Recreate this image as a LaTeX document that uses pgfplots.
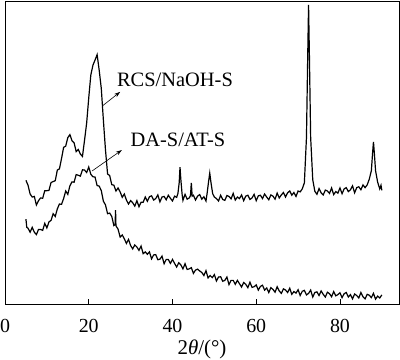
\documentclass[border=0pt]{standalone}
\usepackage{pgfplots}
\pgfplotsset{compat=1.18}
\usetikzlibrary{arrows.meta}
\usepackage{fontspec}
\setmainfont{Liberation Serif}
\begin{document}
\begin{tikzpicture}
\begin{axis}[
  scale only axis,
  width=394bp, height=303bp,
  xmin=0, xmax=94.1, ymin=0, ymax=100,
  xtick={0,20,40,60,80}, ytick=\empty,
  tick align=inside, xtick pos=bottom,
  major tick length=5bp,
  axis line style={line width=0.8bp},
  tick style={line width=0.8bp, black},
  /pgf/number format/assume math mode=true,
  ticklabel style={font=\fontsize{20}{24}\selectfont},
  xticklabel style={yshift=-12bp},
  xlabel={2{\itshape θ}/(°)},
  xlabel style={font=\fontsize{21}{24}\selectfont, yshift=0bp},
  clip=false,
]
\coordinate (SW) at (rel axis cs:0,0);
\coordinate (NE) at (rel axis cs:1,1);
\addplot[black, line width=1.2bp] table {
5.0 40.8
5.5 39.2
6.0 36.3
6.5 35.3
7.0 35.5
7.5 32.7
8.0 34.1
8.5 35.0
9.0 34.9
9.5 37.4
10.0 37.4
10.5 37.5
11.0 40.1
11.5 40.4
12.0 40.7
12.5 44.2
13.0 44.6
13.5 48.0
14.0 51.7
14.5 52.1
15.0 54.9
15.5 55.9
16.0 53.9
16.5 53.2
17.0 50.3
17.5 51.0
18.0 49.5
18.5 48.7
19.0 54.1
19.5 59.7
20.0 68.0
20.5 75.6
21.0 78.8
21.5 80.5
22.0 82.3
22.5 77.1
23.0 71.1
23.5 60.6
24.0 50.8
24.5 42.9
25.0 42.4
25.5 39.4
26.0 39.2
26.5 37.3
27.0 38.3
27.5 37.0
28.0 35.2
28.5 36.3
29.0 34.3
29.5 33.0
30.0 34.1
30.5 33.4
31.0 32.3
31.5 34.1
32.0 32.1
32.5 33.6
33.0 33.6
33.5 35.3
34.0 33.9
34.5 35.4
35.0 35.7
35.5 34.3
36.0 34.8
36.5 36.0
37.0 33.7
37.5 35.3
38.0 35.5
38.5 34.4
39.0 35.9
39.5 34.9
40.0 34.0
40.5 35.6
41.0 35.2
41.3 36.5
41.6 40.0
41.8 45.2
42.0 41.0
42.3 36.2
42.5 34.2
43.0 36.2
43.5 34.6
44.0 35.0
44.3 35.8
44.5 40.0
44.7 35.6
45.0 35.9
45.5 34.3
46.0 35.6
46.5 36.1
47.0 34.6
47.5 35.4
48.0 34.0
48.3 36.8
48.6 40.2
48.9 43.2
49.2 40.0
49.6 36.4
50.0 35.3
50.5 34.8
51.0 34.0
51.5 35.9
52.0 34.5
52.5 34.2
53.0 35.8
53.5 35.5
54.0 34.7
54.5 36.5
55.0 34.3
55.5 35.3
56.0 34.8
56.5 36.0
57.0 34.1
57.5 35.6
58.0 35.9
58.5 34.5
59.0 35.0
59.5 36.2
60.0 34.1
60.5 35.7
61.0 35.9
61.5 34.8
62.0 36.3
62.5 35.3
63.0 34.4
63.5 36.0
64.0 35.6
64.5 34.6
65.0 36.6
65.5 35.0
66.0 36.0
66.5 36.8
67.0 35.3
67.5 36.7
68.0 37.3
68.5 35.9
69.0 36.8
69.5 35.5
70.0 37.3
70.5 37.0
71.0 38.0
71.5 40.0
72.0 55.0
72.3 82.0
72.5 98.7
72.7 82.0
73.0 55.0
73.5 41.0
74.0 37.2
74.5 36.2
75.0 38.1
75.5 36.7
76.0 36.0
76.5 37.6
77.0 37.3
77.5 36.5
78.0 38.3
78.5 36.1
79.0 37.1
79.5 36.6
80.0 38.3
80.5 36.4
81.0 38.0
81.5 38.4
82.0 37.1
82.5 37.7
83.0 39.0
83.5 36.7
84.0 38.4
84.5 38.7
85.0 37.7
85.5 39.3
86.0 38.4
86.5 39.3
87.0 41.2
87.5 44.0
87.8 50.0
88.0 53.5
88.2 50.0
88.5 44.0
89.0 40.2
89.5 38.0
89.8 39.2
90.0 37.5
};
\addplot[black, line width=1.2bp] table {
5.0 28.0
5.2 25.3
5.5 25.0
6.0 23.7
6.5 25.3
7.0 23.7
7.5 22.9
8.0 24.6
8.5 24.6
9.0 24.3
9.5 26.6
10.0 25.1
10.5 27.1
11.0 27.6
11.5 29.8
12.0 28.9
12.5 31.4
13.0 33.0
13.5 32.9
14.0 34.8
14.5 37.3
15.0 36.2
15.5 39.0
16.0 40.3
16.5 40.2
17.0 42.7
17.5 42.5
18.0 42.2
18.5 44.3
19.0 44.2
19.5 43.4
20.0 45.2
20.5 42.8
21.0 42.0
21.5 41.9
22.0 39.1
22.5 38.9
23.0 37.4
23.5 33.9
24.0 32.7
24.5 29.8
25.0 30.0
25.5 28.9
26.0 25.9
26.3 26.2
26.4 31.0
26.5 25.8
27.0 24.7
27.5 22.1
28.0 22.8
28.5 21.5
29.0 20.0
29.5 21.3
30.0 19.3
30.5 18.2
31.0 19.5
31.5 18.8
32.0 17.7
32.5 19.1
33.0 16.6
33.5 17.2
34.0 16.4
34.5 17.2
35.0 14.9
35.5 16.2
36.0 16.3
36.5 14.6
37.0 14.8
37.5 15.8
38.0 13.3
38.5 14.7
39.0 14.7
39.5 13.4
40.0 14.7
40.5 13.4
41.0 12.2
41.5 13.6
42.0 12.9
42.5 11.6
43.0 13.3
43.5 11.4
44.0 11.6
44.5 12.0
45.0 10.1
45.5 11.2
46.0 11.5
46.5 10.9
47.0 10.4
47.5 9.4
48.0 11.0
48.5 8.6
49.0 9.4
49.5 8.7
50.0 9.7
50.5 7.6
51.0 8.9
51.5 9.0
52.0 7.5
52.5 7.8
53.0 8.9
53.5 6.4
54.0 7.8
54.5 7.8
55.0 6.5
55.5 7.8
56.0 6.7
56.5 5.6
57.0 7.1
57.5 6.5
58.0 5.4
58.5 7.2
59.0 5.5
59.5 5.7
60.0 6.3
60.5 4.6
61.0 5.8
61.5 6.2
62.0 4.6
62.5 5.3
63.0 3.8
63.5 5.4
64.0 4.8
64.5 3.9
65.0 5.7
65.5 4.3
66.0 3.5
66.5 5.0
67.0 4.6
67.5 3.8
68.0 5.2
68.5 3.2
69.0 4.1
69.5 3.6
70.0 4.7
70.5 2.8
71.0 4.2
71.5 4.5
72.0 3.0
72.5 3.5
73.0 4.6
73.5 2.3
74.0 3.8
74.5 4.0
75.0 2.8
75.5 4.3
76.0 3.2
76.5 2.3
77.0 3.9
77.5 3.4
78.0 2.4
78.5 4.1
79.0 2.7
79.5 3.1
80.0 3.7
80.5 2.1
81.0 3.4
81.5 3.8
82.0 2.3
82.5 3.1
83.0 1.7
83.5 3.3
84.0 2.8
84.5 2.0
85.0 3.8
85.5 2.4
86.0 1.7
86.5 3.2
87.0 2.9
87.5 2.1
88.0 3.5
88.5 1.6
89.0 2.6
89.5 2.0
90.0 3.0
};
\node[font=\fontsize{20.5}{24}\selectfont] at (axis cs:40.6,73.9) {RCS/NaOH-S};
\node[font=\fontsize{20.5}{24}\selectfont] at (axis cs:41.3,54.1) {DA-S/AT-S};
\draw[-{Stealth[length=6bp,width=4bp]}, line width=0.6bp] (axis cs:23.2,65.3) -- (axis cs:27.5,70.0);
\draw[-{Stealth[length=6bp,width=4bp]}, line width=0.6bp] (axis cs:20.8,43.9) -- (axis cs:27.9,50.8);
\end{axis}
\pgfresetboundingbox
\path ([shift={(-5bp,-56bp)}]SW) rectangle ([shift={(1bp,1bp)}]NE);
\end{tikzpicture}
\end{document}
